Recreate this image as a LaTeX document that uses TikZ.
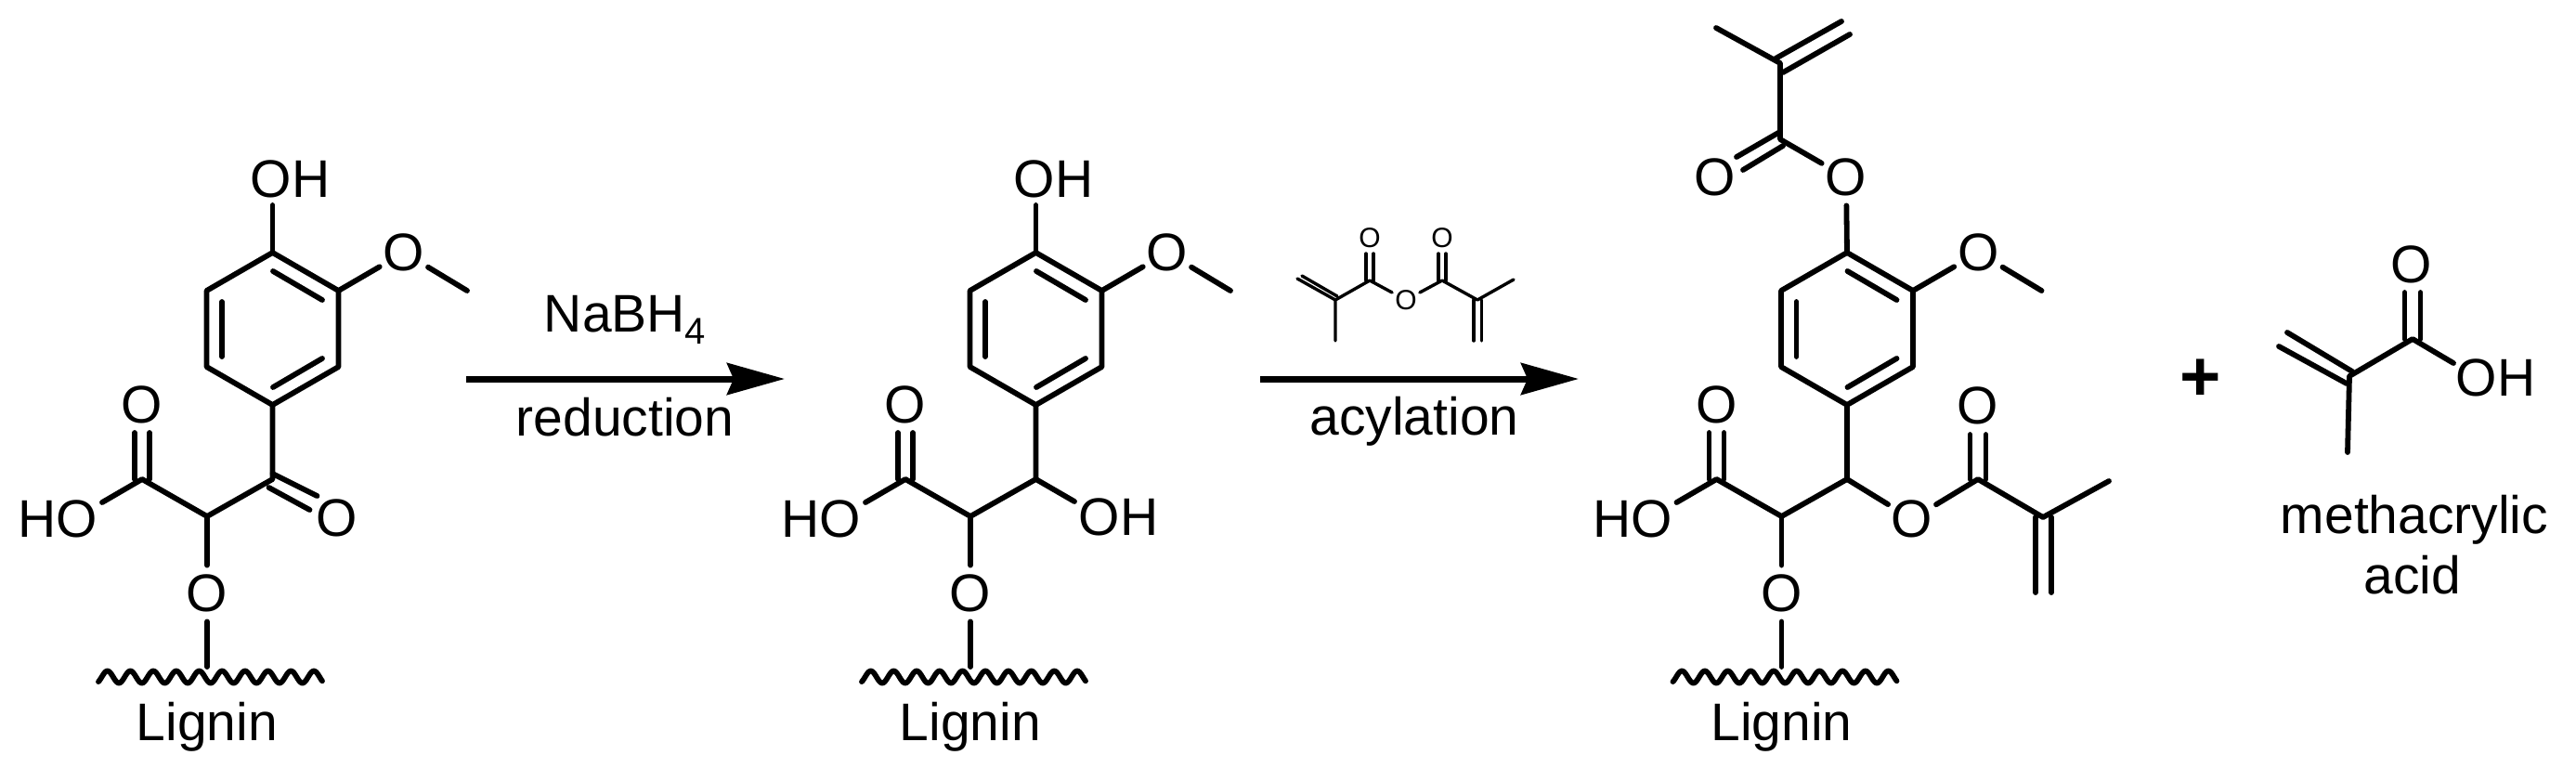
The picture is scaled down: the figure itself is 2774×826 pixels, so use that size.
\documentclass[tikz,border=0pt]{standalone}
\usepackage{fontspec}
\setmainfont{Liberation Sans}
\usetikzlibrary{arrows.meta}
\tikzset{
  bond/.style={line width=2.9pt,line cap=round,line join=round,black},
  thinbond/.style={line width=1.7pt,line cap=round,line join=round,black},
  atom/.style={circle,inner sep=0pt,minimum size=30pt,font=\fontsize{28.5}{32}\selectfont},
  label/.style={anchor=base,inner sep=0pt,font=\fontsize{28.5}{32}\selectfont},
  smallatom/.style={circle,inner sep=0pt,minimum size=16.5pt,font=\fontsize{15}{17}\selectfont},
  rxn/.style={line width=3.5pt,-{Stealth[length=31pt,width=17pt,inset=3.5pt]}},
}
% common skeleton: ring, methoxy, acid, ether and lignin
\newcommand{\ligninbase}{
  \coordinate (r1) at (293.5,272);
  \coordinate (r2) at (364.5,313);
  \coordinate (r3) at (364.5,395);
  \coordinate (r4) at (293.5,436);
  \coordinate (r5) at (222.5,395);
  \coordinate (r6) at (222.5,313);
  \coordinate (calpha) at (293.5,516);
  \coordinate (cbeta) at (223,556);
  \coordinate (cacid) at (153,516);
  \coordinate (hoend) at (110,541);
  \coordinate (etherend) at (223,718);
  \node[atom] (ome) at (435,272) {O};
  \coordinate (me) at (503,313);
  \node[atom] (oacid) at (153,436) {O};
  \node[atom] (oeth) at (223,639) {O};
  \node[label] (ho) at (62.5,578) {HO};
  \node[label] (lig) at (223,797) {Lignin};
  \draw[bond] (r1) -- (r2) -- (r3) -- (r4) -- (r5) -- (r6) -- cycle;
  \draw[bond] (r1) ++(0.5,20) -- ++(53,31);
  \draw[bond] (r4) ++(0.5,-19) -- ++(53,-31);
  \draw[bond] (r6) ++(16.5,12) -- ++(0,59);
  \draw[bond] (r2) -- (ome);
  \draw[bond] (ome) -- (me);
  \draw[bond] (r4) -- (calpha) -- (cbeta) -- (cacid) -- (hoend);
  \draw[bond] (cacid) ++(-8,0) -- ++(0,-50);
  \draw[bond] (cacid) ++(8,0) -- ++(0,-50);
  \draw[bond] (cbeta) -- (oeth);
  \draw[bond] (oeth) -- (etherend);
  \draw[bond] plot[domain=-117:124,samples=240] ({223+\x},{729-6.5*cos((\x-115)/24.7*360)});
}
\begin{document}
\begin{tikzpicture}[x=0.5pt,y=-0.5pt]
\useasboundingbox[fill=white] (0,0) rectangle (2774,826);

% ---------- first molecule
\begin{scope}[name prefix=a-]
  \ligninbase
  \coordinate (ohend) at (293.5,221);
  \node[label] (oh) at (312.5,212) {OH};
  \draw[bond] (r1) -- (ohend);
  \node[atom] (oket) at (363,558) {O};
  \draw[bond] (calpha) ++(0,-6) -- ++(48,24);
  \draw[bond] (calpha) ++(-4,9) -- ++(44,24);
\end{scope}

% ---------- first arrow
\coordinate (ar1s) at (502,408);
\coordinate (ar1e) at (845,408);
\draw[rxn] (ar1s) -- (ar1e);
\node[label] (nabh) at (673,357) {NaBH\raisebox{-6.5pt}{\fontsize{20}{22}\selectfont 4}};
\node[label] (red) at (673,469) {reduction};

% ---------- second molecule
\begin{scope}[shift={(822,0)},name prefix=b-]
  \ligninbase
  \coordinate (ohend) at (293.5,221);
  \node[label] (oh) at (312.5,212) {OH};
  \draw[bond] (r1) -- (ohend);
  \coordinate (ohaend) at (335,540);
  \node[label] (oha) at (382.5,576) {OH};
  \draw[bond] (calpha) -- (ohaend);
\end{scope}

% ---------- second arrow
\coordinate (ar2s) at (1357,408);
\coordinate (ar2e) at (1700,408);
\draw[rxn] (ar2s) -- (ar2e);
\node[label] (acy) at (1523,468) {acylation};

% ---------- methacrylic anhydride
\coordinate (ma1) at (1438,323);
\coordinate (ma2) at (1438,367);
\coordinate (ma3) at (1475,302);
\coordinate (ma4) at (1553,302);
\coordinate (ma5) at (1591,323);
\coordinate (ma6) at (1630,301);
\node[smallatom] (mao1) at (1475,256) {O};
\node[smallatom] (mao2) at (1553,256) {O};
\node[smallatom] (mao3) at (1514,323) {O};
\draw[thinbond] (ma2) -- (ma1) -- (ma3) -- (mao3) -- (ma4) -- (ma5) -- (ma6);
\draw[thinbond] (ma1) -- ++(-41,-23);
\draw[thinbond] (ma1) ++(2,-4) -- ++(-38,-22);
\draw[thinbond] (ma3) ++(-4,0) -- ++(0,-29);
\draw[thinbond] (ma3) ++(4,0) -- ++(0,-29);
\draw[thinbond] (ma4) ++(-4,0) -- ++(0,-29);
\draw[thinbond] (ma4) ++(4,0) -- ++(0,-29);
\draw[thinbond] (ma5) ++(-4,0) -- ++(0,44);
\draw[thinbond] (ma5) ++(4.5,0) -- ++(0,44);

% ---------- third molecule
\begin{scope}[shift={(1695.5,0)},name prefix=c-]
  \ligninbase
  % aryl ester on top
  \node[atom] (oest) at (292.5,191) {O};
  \draw[bond] (r1) -- (oest);
  \coordinate (tc) at (221.5,150);
  \coordinate (tv) at (221.5,68);
  \coordinate (tm) at (152.5,30);
  \node[atom] (otc) at (151.5,191) {O};
  \draw[bond] (oest) -- (tc) -- (tv) -- (tm);
  \draw[bond] (tc) ++(-2,-7) -- ++(-45,26);
  \draw[bond] (tc) ++(3,7) -- ++(-43,26);
  \draw[bond] (tv) ++(-5,-5) -- ++(71,-40);
  \draw[bond] (tv) ++(3,10) -- ++(72,-41);
  % alpha ester
  \node[atom] (oa) at (363.5,559) {O};
  \coordinate (ac) at (434.5,516);
  \node[atom] (oac) at (434.5,437) {O};
  \coordinate (av) at (504.5,557);
  \coordinate (am) at (575.5,518);
  \draw[bond] (calpha) -- (oa) -- (ac) -- (av) -- (am);
  \draw[bond] (ac) ++(-8.5,0) -- ++(0,-48);
  \draw[bond] (ac) ++(8.5,0) -- ++(0,-48);
  \draw[bond] (av) ++(-8,0) -- ++(0,81);
  \draw[bond] (av) ++(9,0) -- ++(0,81);
\end{scope}

% ---------- plus and methacrylic acid
\node[inner sep=0pt,font=\fontsize{38}{40}\selectfont\bfseries] (plus) at (2370,409) {+};
\coordinate (mv) at (2530,405);
\coordinate (mm) at (2528,487);
\coordinate (mc) at (2598,365);
\coordinate (mohend) at (2642,391);
\node[atom] (mo) at (2597,285) {O};
\node[label] (moh) at (2687.5,426) {OH};
\node[label] (mtxt) at (2600,574) {methacrylic};
\node[label] (atxt) at (2598,639) {acid};
\draw[bond] (mm) -- (mv) -- (mc) -- (mohend);
\draw[bond] (mc) ++(-8.5,0) -- ++(0,-50);
\draw[bond] (mc) ++(8.5,0) -- ++(0,-50);
\draw[bond] (mv) ++(-3,8) -- ++(-73,-40);
\draw[bond] (mv) ++(3,-5) -- ++(-70,-42);
\end{tikzpicture}
\end{document}
